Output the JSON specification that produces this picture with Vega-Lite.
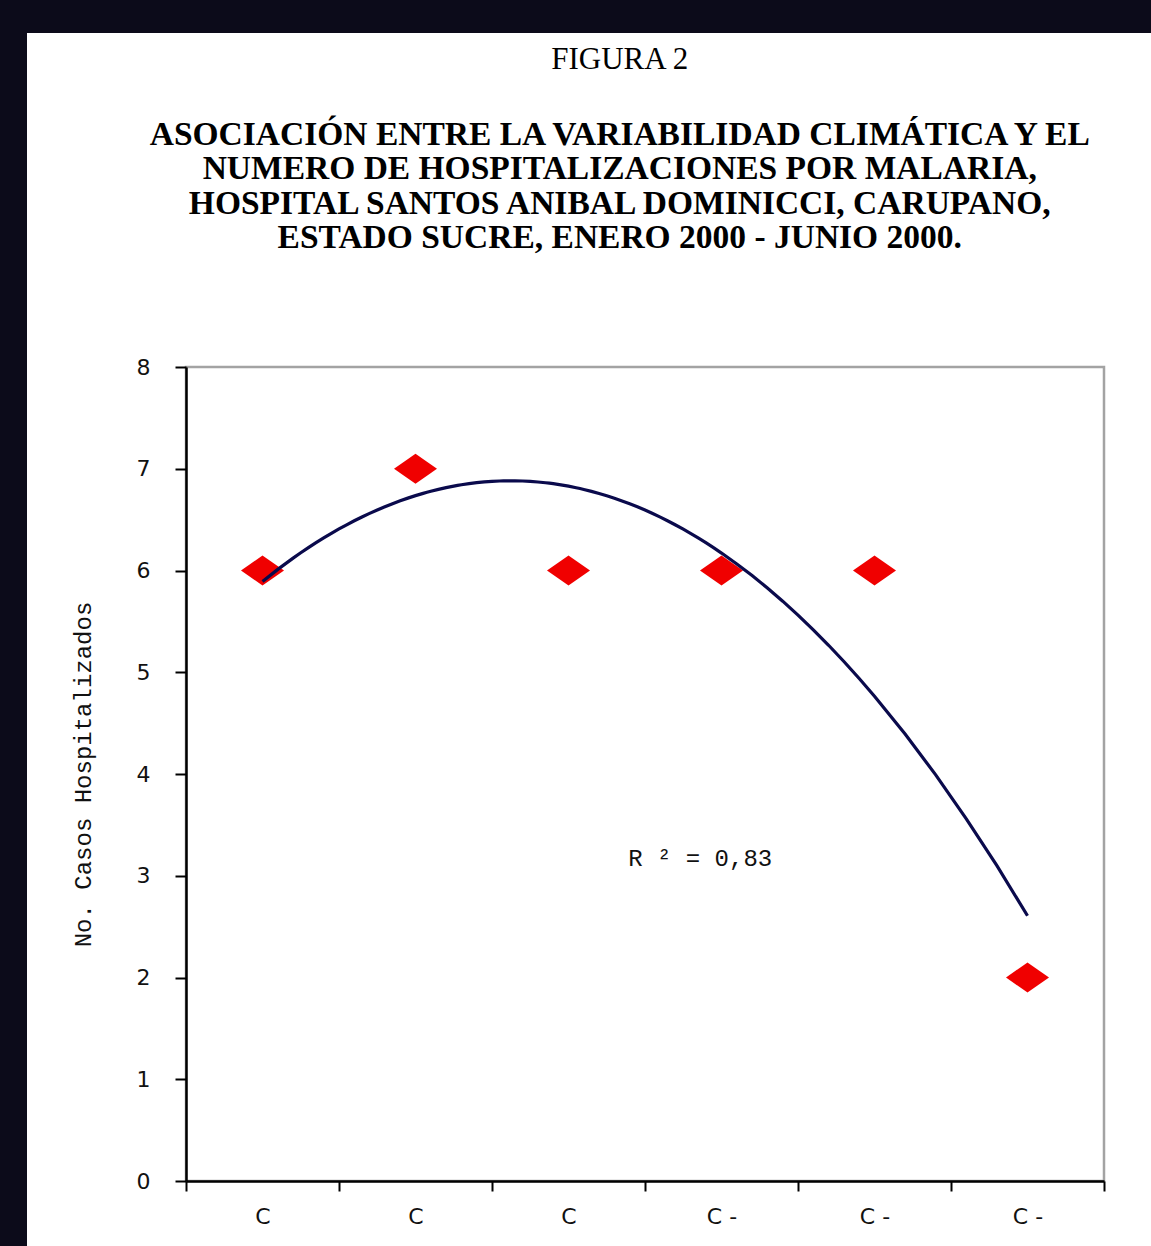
{
  "$schema": "https://vega.github.io/schema/vega-lite/v6.json",
  "width": 918,
  "height": 814,
  "padding": {"left": 27, "top": 32, "right": 0, "bottom": 0},
  "background": "#0c0b1a",
  "title": {
    "text": "FIGURA 2",
    "subtitle": [
      "ASOCIACIÓN ENTRE LA VARIABILIDAD CLIMÁTICA Y EL",
      "NUMERO DE HOSPITALIZACIONES POR MALARIA,",
      "HOSPITAL SANTOS ANIBAL DOMINICCI, CARUPANO,",
      "ESTADO SUCRE, ENERO 2000 -  JUNIO 2000."
    ],
    "anchor": "middle",
    "frame": "bounds",
    "dx": 16,
    "offset": -223,
    "font": "Liberation Serif",
    "fontSize": 31,
    "fontWeight": "normal",
    "color": "#000000",
    "subtitleFont": "Liberation Serif",
    "subtitleFontSize": 33.5,
    "subtitleFontWeight": "bold",
    "subtitleColor": "#000000",
    "subtitleLineHeight": 34.5,
    "subtitlePadding": 43,
    "zindex": 2
  },
  "data": {
    "values": [
      {"orden": 1, "clima": "C", "casos": 6},
      {"orden": 2, "clima": "C", "casos": 7},
      {"orden": 3, "clima": "C", "casos": 6},
      {"orden": 4, "clima": "C -", "casos": 6},
      {"orden": 5, "clima": "C -", "casos": 6},
      {"orden": 6, "clima": "C -", "casos": 2}
    ]
  },
  "layer": [
    {
      "data": {"values": [{}]},
      "mark": {"type": "rect", "fill": "#ffffff", "clip": false},
      "encoding": {
        "x": {"datum": -0.5392, "type": "quantitative"},
        "x2": {"datum": 6.8072},
        "y": {"datum": -0.6486, "type": "quantitative"},
        "y2": {"datum": 11.2826}
      }
    },
    {
      "data": {"values": [{}]},
      "mark": {"type": "rect", "filled": false, "stroke": "#a3a3a3", "strokeWidth": 2.5},
      "encoding": {
        "x": {"datum": 0.5, "type": "quantitative"},
        "x2": {"datum": 6.5},
        "y": {"datum": 0, "type": "quantitative"},
        "y2": {"datum": 8}
      }
    },
    {
      "mark": {
        "type": "point",
        "shape": "M -1 0 L 0 -0.7 L 1 0 L 0 0.7 Z",
        "filled": true,
        "fill": "#f00000",
        "opacity": 1,
        "size": 1849,
        "strokeWidth": 0
      },
      "encoding": {
        "x": {
          "field": "orden",
          "type": "quantitative",
          "scale": {"domain": [0.5, 6.5], "nice": false, "zero": false},
          "axis": {
            "title": null,
            "values": [0.5, 1.5, 2.5, 3.5, 4.5, 5.5, 6.5],
            "labelExpr": "datum.value > 6 ? '' : (datum.value < 3 ? 'C' : 'C -')",
            "labelOffset": 76.5,
            "labelFlush": false,
            "labelOverlap": false,
            "labelBound": false,
            "grid": false,
            "tickSize": 10,
            "tickWidth": 2,
            "tickColor": "#000000",
            "domainColor": "#000000",
            "domainWidth": 2.5,
            "labelFont": "DejaVu Sans",
            "labelFontSize": 22,
            "labelColor": "#111111",
            "labelPadding": 15,
            "zindex": 1
          }
        },
        "y": {
          "field": "casos",
          "type": "quantitative",
          "scale": {"domain": [0, 8], "nice": false},
          "axis": {
            "title": "No. Casos Hospitalizados",
            "values": [0, 1, 2, 3, 4, 5, 6, 7, 8],
            "format": "d",
            "grid": false,
            "tickSize": 11,
            "tickWidth": 2,
            "tickColor": "#000000",
            "domainColor": "#000000",
            "domainWidth": 2.5,
            "labelFont": "DejaVu Sans",
            "labelFontSize": 22,
            "labelColor": "#111111",
            "labelPadding": 25,
            "titleFont": "Liberation Mono",
            "titleFontSize": 24,
            "titleFontWeight": "normal",
            "titleColor": "#111111",
            "titlePadding": 41,
            "zindex": 1
          }
        }
      }
    },
    {
      "transform": [
        {"regression": "casos", "on": "orden", "method": "poly", "order": 2, "extent": [1, 6]}
      ],
      "mark": {"type": "line", "color": "#0a0a4c", "strokeWidth": 3.2},
      "encoding": {
        "x": {"field": "orden", "type": "quantitative"},
        "y": {"field": "casos", "type": "quantitative"}
      }
    },
    {
      "transform": [
        {"regression": "casos", "on": "orden", "method": "poly", "order": 2, "params": true}
      ],
      "mark": {
        "type": "text",
        "text": {"expr": "'R ² = ' + replace(format(datum.rSquared, '.2f'), '.', ',')"},
        "align": "left",
        "baseline": "middle",
        "font": "Liberation Mono",
        "fontSize": 24,
        "color": "#111111"
      },
      "encoding": {
        "x": {"datum": 3.39, "type": "quantitative"},
        "y": {"datum": 3.16, "type": "quantitative"}
      }
    }
  ]
}
